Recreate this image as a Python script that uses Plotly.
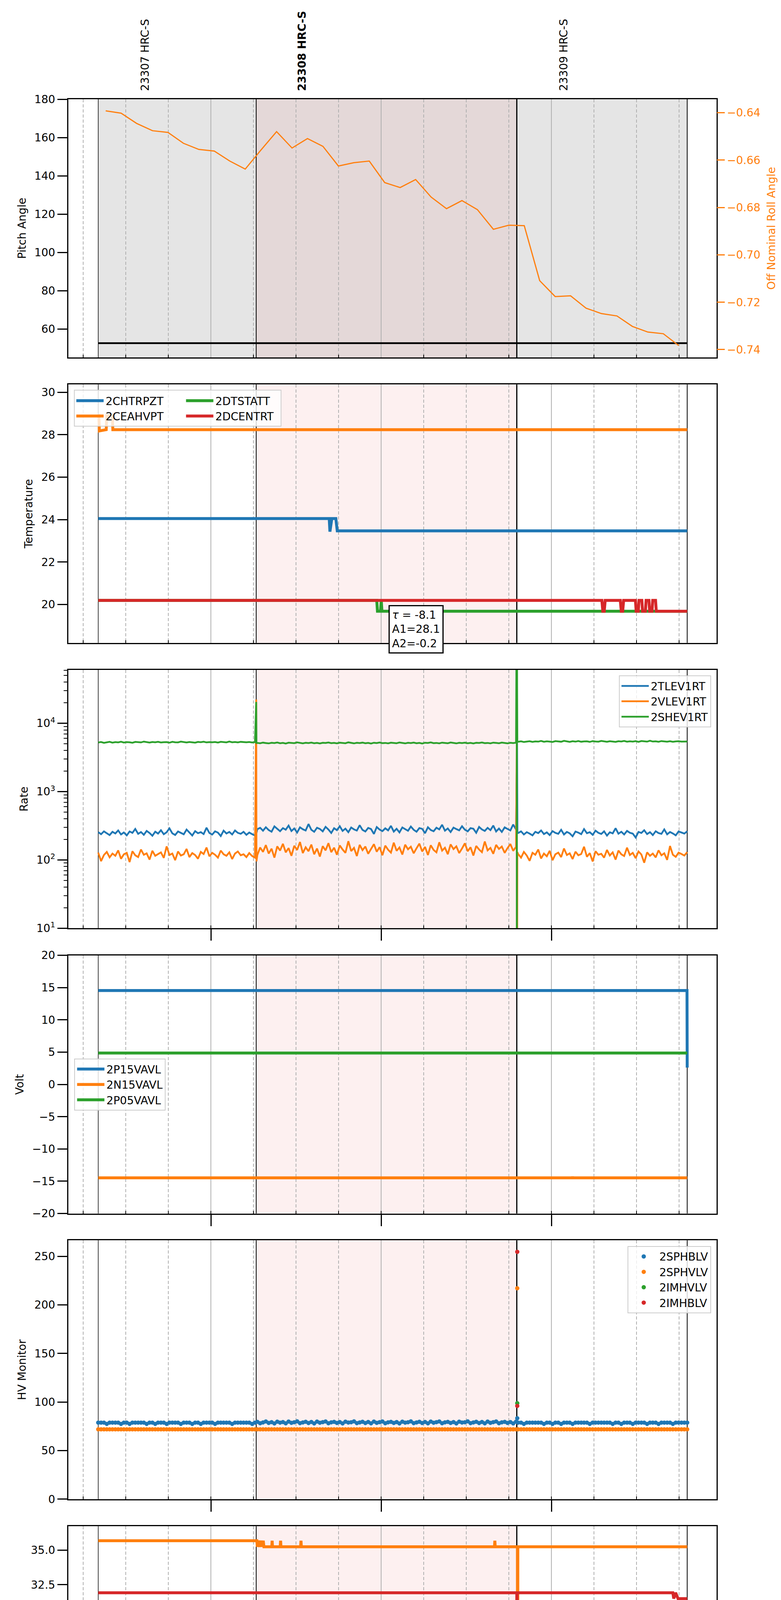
import pandas as pd
import plotly.graph_objects as go

DAY = "2020-07-07 "
C0, C1, C2, C3 = "#1f77b4", "#ff7f0e", "#2ca02c", "#d62728"

# time window and observation boundaries
x_range = ["14:09:44", "17:58:10"]
obs_edges = ["14:20:16", "15:15:56", "16:47:46", "17:47:49"]
obs_names = ["23307 HRC-S", "23308 HRC-S", "23309 HRC-S"]
obs_label_times = ["14:36:46", "15:32:05", "17:04:16"]
current_obs = 1

minor_tick_times = ["14:15", "14:30", "14:45", "15:15", "15:30", "15:45",
                    "16:15", "16:30", "16:45", "17:15", "17:30", "17:45"]
minor_tick_text = ["15", "30", "45", "15", "30", "45", "15", "30", "45", "15", "30", "45"]

# panel 1: pitch and roll
pitch_t = ["14:20:16", "17:47:49"]
pitch_v = [52.6, 52.6]
roll_t = ["14:22:54", "14:28:20", "14:33:47", "14:39:24", "14:44:51", "14:50:17", "14:55:44",
          "15:01:10", "15:06:37", "15:12:04", "15:17:30", "15:23:07", "15:28:34", "15:34:00",
          "15:39:27", "15:44:54", "15:50:20", "15:55:47", "16:01:13", "16:06:40", "16:12:07",
          "16:17:34", "16:23:00", "16:28:26", "16:33:53", "16:39:31", "16:44:57", "16:50:24",
          "16:55:50", "17:01:17", "17:06:44", "17:12:10", "17:17:37", "17:23:04", "17:28:30",
          "17:33:57", "17:39:24", "17:44:50"]
roll_v = [-0.6392, -0.6402, -0.6445, -0.6476, -0.6483, -0.6529, -0.6555, -0.6562, -0.6604,
          -0.6638, -0.6559, -0.6480, -0.6549, -0.6509, -0.6542, -0.6625, -0.6611, -0.6604,
          -0.6695, -0.6716, -0.6682, -0.6756, -0.6805, -0.6771, -0.6809, -0.6892, -0.6875,
          -0.6877, -0.7109, -0.7176, -0.7173, -0.7225, -0.7248, -0.7258, -0.7302, -0.7326,
          -0.7333, -0.7383]

# panel 2: temperature
chtrpzt_t = ["14:20:16", "15:41:40", "15:41:55", "15:42:35", "15:44:00", "15:44:30", "17:47:49"]
chtrpzt_v = [24.05, 24.05, 23.43, 24.05, 24.05, 23.47, 23.47]
ceahvpt_t = ["14:20:16", "14:20:30", "14:20:40", "14:23:05", "14:23:15", "14:25:15", "14:25:25", "17:47:49"]
ceahvpt_v = [28.9, 28.9, 28.18, 28.24, 28.9, 28.9, 28.24, 28.24]
dtstatt_t = ["14:20:16", "15:58:25", "15:58:40", "15:59:45", "16:00:00", "16:00:15", "17:47:49"]
dtstatt_v = [20.19, 20.19, 19.68, 19.68, 20.19, 19.68, 19.68]
dcentrt_t = ["14:20:16", "17:17:45", "17:18:05", "17:18:35", "17:18:55", "17:24:15", "17:24:35",
             "17:25:05", "17:25:25", "17:29:35", "17:29:50", "17:30:35", "17:30:50", "17:31:50",
             "17:32:05", "17:33:05", "17:33:20", "17:34:20", "17:34:35", "17:35:25", "17:35:40",
             "17:36:40", "17:36:55", "17:47:49"]
dcentrt_v = [20.19, 20.19, 19.68, 19.68, 20.19, 20.19, 19.68, 19.68, 20.19, 20.19, 19.68, 19.68,
             20.19, 20.19, 19.68, 19.68, 20.19, 20.19, 19.68, 19.68, 20.19, 20.19, 19.68, 19.68]
fit_text = "<i>τ</i> = -8.1<br>A1=28.1<br>A2=-0.2"

# panel 3: rates, one sample a minute in each observation window
rate_windows = [("14:20:16", "15:15:30"), ("15:16:20", "16:47:30"), ("16:48:15", "17:47:49")]
tlev_pre = [255, 238, 262, 247, 231, 258, 244, 270, 236, 252, 229, 261, 249, 284, 241, 256, 233, 266,
            248, 226, 259, 243, 272, 238, 254, 290, 245, 232, 261, 249, 237, 278, 252, 228, 264, 246,
            255, 239, 296, 248, 235, 262, 251, 224, 268, 244, 257, 236, 270, 249, 241, 258, 233, 252,
            238, 228]
tlev_mid = [282, 295, 268, 301, 274, 259, 310, 286, 263, 292, 277, 318, 265, 289, 252, 300, 281, 270,
            335, 276, 258, 296, 284, 262, 305, 279, 248, 291, 273, 312, 266, 287, 255, 298, 280, 269,
            322, 275, 261, 294, 283, 240, 303, 278, 264, 290, 271, 315, 260, 286, 253, 299, 282, 267,
            308, 276, 259, 293, 285, 246, 301, 274, 263, 296, 280, 327, 268, 289, 256, 297, 283, 271,
            311, 277, 262, 292, 286, 250, 304, 279, 266, 295, 273, 318, 261, 288, 257, 300, 284, 270,
            330, 278]
tlev_post = [248, 262, 236, 255, 243, 229, 258, 247, 270, 239, 253, 231, 264, 249, 241, 276, 236, 257,
             245, 222, 260, 251, 238, 283, 246, 255, 233, 268, 249, 240, 262, 227, 254, 245, 291, 242,
             258, 236, 266, 250, 243, 213, 257, 248, 272, 239, 255, 231, 263, 247, 241, 280, 237, 256,
             244, 229, 261, 250, 243, 262]
vlev_pre = [128, 96, 118, 131, 109, 124, 115, 138, 104, 121, 127, 93, 134, 117, 110, 142, 119, 125,
            101, 136, 115, 122, 129, 107, 158, 118, 124, 99, 133, 116, 121, 145, 110, 126, 118, 104,
            131, 122, 152, 113, 127, 119, 108, 137, 121, 115, 129, 103, 124, 133, 117, 121, 110, 126,
            114, 108]
vlev_mid = [118, 152, 131, 165, 124, 146, 108, 158, 137, 172, 129, 149, 115, 161, 140, 183, 126, 153,
            134, 168, 121, 147, 112, 159, 138, 176, 130, 151, 119, 163, 142, 127, 188, 135, 150, 114,
            166, 139, 157, 123, 145, 170, 132, 154, 117, 162, 141, 128, 179, 136, 152, 120, 167, 143,
            156, 125, 148, 173, 133, 155, 118, 164, 140, 129, 181, 137, 151, 121, 169, 144, 158, 126,
            147, 175, 134, 153, 116, 160, 142, 130, 186, 138, 150, 123, 166, 145, 157, 127, 149, 171,
            136, 155]
vlev_post = [122, 108, 131, 116, 97, 127, 119, 142, 105, 124, 113, 136, 99, 121, 128, 110, 147, 118,
             125, 103, 132, 117, 122, 156, 111, 126, 95, 134, 119, 123, 108, 140, 116, 129, 101, 137,
             121, 114, 151, 118, 127, 106, 133, 120, 91, 129, 115, 124, 109, 138, 117, 125, 100, 160,
             119, 111, 128, 122, 116, 130]
shev_pre = [5240, 5320, 5180, 5290, 5350, 5210, 5300, 5260, 5380, 5230, 5310, 5270, 5190, 5340, 5280,
            5250, 5400, 5300, 5220, 5330, 5270, 5360, 5240, 5290, 5310, 5200, 5350, 5280, 5260, 5390,
            5300, 5240, 5320, 5270, 5210, 5340, 5290, 5380, 5250, 5310, 5270, 5330, 5230, 5360, 5300,
            5260, 5410, 5280, 5320, 5250, 5350, 5290, 5270, 5330, 5240, 5300]
shev_mid = [5160, 5100, 5210, 5140, 5080, 5190, 5130, 5230, 5110, 5170, 5060, 5200, 5150, 5120, 5250,
            5140, 5090, 5180, 5130, 5220, 5100, 5160, 5070, 5190, 5150, 5240, 5120, 5170, 5090, 5200,
            5140, 5110, 5260, 5150, 5080, 5180, 5130, 5210, 5100, 5170, 5050, 5190, 5140, 5230, 5120,
            5160, 5090, 5200, 5150, 5110, 5240, 5130, 5080, 5180, 5140, 5220, 5100, 5170, 5060, 5190,
            5150, 5250, 5120, 5160, 5090, 5210, 5140, 5110, 5230, 5150, 5080, 5180, 5130, 5200, 5100,
            5170, 5070, 5190, 5150, 5240, 5120, 5160, 5090, 5210, 5140, 5110, 5220, 5150, 5080, 5180,
            5140, 5200]
shev_post = [5380, 5450, 5320, 5410, 5470, 5350, 5430, 5390, 5510, 5360, 5440, 5400, 5330, 5480, 5420,
             5370, 5530, 5410, 5350, 5460, 5390, 5500, 5370, 5430, 5450, 5340, 5490, 5410, 5380, 5520,
             5420, 5360, 5460, 5400, 5340, 5470, 5410, 5510, 5380, 5440, 5400, 5480, 5350, 5500, 5420,
             5390, 5550, 5410, 5450, 5370, 5490, 5420, 5380, 5460, 5360, 5430, 5470, 5400, 5440, 5420]
# spikes at the two observation changes (values below 10 or above 6e4 run off the axis)
tlev_spike1_t, tlev_spike1_v = ["15:15:56", "15:16:02"], [262, 248]
vlev_spike1_t, vlev_spike1_v = ["15:15:56", "15:16:02"], [22300, 95]
shev_spike1_t, shev_spike1_v = ["15:15:56", "15:16:02"], [20500, 5150]
tlev_spike2_t, tlev_spike2_v = ["16:47:52", "16:48:00"], [5200, 250]
vlev_spike2_t, vlev_spike2_v = ["16:47:45", "16:47:47", "16:47:52", "16:47:58"], [5000, 0.1, 0.1, 130]
shev_spike2_t = ["16:47:45", "16:47:47", "16:47:49", "16:47:51", "16:47:53", "16:47:58"]
shev_spike2_v = [1e6, 0.1, 1e6, 0.1, 35000, 5350]

# panel 4: voltages
p15vavl_t, p15vavl_v = ["14:20:16", "17:47:45", "17:47:49"], [14.54, 14.54, 2.6]
n15vavl_t = ["14:20:16", "17:07:18", "17:07:26", "17:07:34", "17:47:49"]
n15vavl_v = [-14.48, -14.48, -14.3, -14.48, -14.48]
p05vavl_t, p05vavl_v = ["14:20:16", "17:47:49"], [4.86, 4.86]

# panel 5: HV monitor, one sample a minute in each observation window
sphblv_pre = [78.8, 78.8, 78.8, 77.5, 78.8, 78.8, 78.8, 78.8, 77.5, 78.8, 78.8, 77.5, 78.8, 78.8,
              78.8, 78.8, 78.8, 77.5, 78.8, 78.8, 77.5, 78.8, 78.8, 78.8, 77.5, 78.8, 78.8, 78.8,
              78.8, 77.5, 78.8, 78.8, 78.8, 77.5, 78.8, 78.8, 77.5, 78.8, 78.8, 78.8, 78.8, 77.5,
              78.8, 78.8, 78.8, 78.8, 78.8, 77.5, 78.8, 78.8, 78.8, 78.8, 78.8, 78.8, 77.5, 78.8]
sphblv_mid = [79.6, 78.2, 79.0, 80.0, 78.5, 79.3, 78.0, 79.8, 78.8, 79.4, 78.1, 79.9, 78.6, 79.2,
              80.1, 78.3, 79.0, 79.7, 78.4, 79.5, 78.0, 79.9, 78.7, 79.3, 80.0, 78.2, 79.1, 79.6,
              78.5, 79.4, 78.0, 79.8, 78.9, 79.2, 80.1, 78.3, 79.0, 79.7, 78.4, 79.5, 78.1, 79.9,
              78.6, 79.3, 80.0, 78.2, 79.1, 79.6, 78.5, 79.4, 78.0, 79.8, 78.8, 79.2, 80.1, 78.3,
              79.0, 79.7, 78.4, 79.5, 78.1, 79.9, 78.7, 79.3, 80.0, 78.2, 79.1, 79.6, 78.5, 79.4,
              78.0, 79.8, 78.9, 79.2, 80.1, 78.3, 79.0, 79.7, 78.4, 79.5, 78.1, 79.9, 78.6, 79.3,
              80.0, 78.2, 79.1, 79.6, 78.5, 79.4, 78.0, 79.8]
sphblv_post = [78.8, 78.8, 77.5, 78.8, 78.8, 78.8, 78.8, 78.8, 78.8, 77.5, 78.8, 78.8, 77.5, 78.8,
               78.8, 77.5, 78.8, 78.8, 78.8, 77.5, 78.8, 78.8, 78.8, 78.8, 78.8, 77.5, 78.8, 78.8,
               78.8, 78.8, 78.8, 78.8, 78.8, 77.5, 78.8, 78.8, 77.5, 78.8, 78.8, 78.8, 77.5, 78.8,
               78.8, 78.8, 78.8, 77.5, 78.8, 78.8, 78.8, 77.5, 78.8, 78.8, 78.8, 78.8, 77.5, 78.8,
               78.8, 78.8, 78.8, 78.8]
sphvlv_level = 71.9
hv_spike_t = "16:47:56"
sphblv_spike, sphvlv_spike = [83.3], [217.1]
imhvlv_spike, imhblv_spike = [98.8], [254.6, 96.0]

# panel 6: detector temperatures
spinatm_t, spinatm_v = ["14:20:16", "17:47:49"], [21.0, 21.0]
sphvatm_t = ["14:20:16", "15:16:10", "15:16:20", "15:16:50", "15:17:20", "15:17:45", "15:18:10",
             "15:18:25", "15:18:40", "15:21:25", "15:21:33", "15:21:41", "15:24:24", "15:24:32",
             "15:24:40", "15:31:35", "15:31:43", "15:31:51", "16:39:54", "16:40:02", "16:40:10",
             "16:48:00", "16:48:04", "16:48:08", "17:47:49"]
sphvatm_v = [35.67, 35.67, 35.23, 35.67, 35.23, 35.67, 35.23, 35.67, 35.23, 35.23, 35.67, 35.23,
             35.23, 35.67, 35.23, 35.23, 35.67, 35.23, 35.23, 35.67, 35.23, 35.23, 0.0, 35.23, 35.23]
iminatm_t = ["14:20:16", "16:48:08", "16:48:12", "16:48:16", "17:47:49"]
iminatm_v = [19.62, 19.62, 0.0, 19.62, 19.62]
imhvatm_t = ["14:20:16", "16:47:46", "16:47:50", "16:47:54", "17:42:45", "17:43:05", "17:43:45",
             "17:44:35", "17:47:49"]
imhvatm_v = [31.92, 31.92, 0.0, 31.92, 31.92, 31.5, 31.92, 31.5, 31.5]

# panel 7: FEA temperatures
fhtrmzt_t = ["14:20:16", "14:22:15", "14:22:30", "14:29:20", "14:29:34", "14:29:48", "14:45:40",
             "14:45:54", "14:46:08", "16:21:00", "16:21:14", "16:21:28", "16:29:28", "16:29:41",
             "16:29:54", "17:01:10", "17:01:25", "17:02:50", "17:03:05", "17:03:40", "17:47:49"]
fhtrmzt_v = [21.83, 21.83, 21.26, 21.26, 21.83, 21.26, 21.26, 19.13, 21.26, 21.26, 20.70, 21.26,
             21.26, 22.97, 21.26, 21.26, 20.74, 20.74, 21.26, 20.74, 20.74]
fradpyt_t, fradpyt_v = ["14:20:16", "15:44:15", "15:44:35", "17:47:49"], [16.67, 16.67, 16.20, 16.20]
fepratm_t = ["14:20:16", "16:47:40", "16:47:42", "16:47:44", "16:47:46", "17:22:50", "17:23:10",
             "17:24:00", "17:25:00", "17:26:10", "17:27:05", "17:28:15", "17:29:25", "17:47:49"]
fepratm_v = [23.88, 23.88, 40.0, 0.0, 23.88, 23.88, 23.15, 23.88, 23.15, 23.88, 23.15, 23.88,
             23.15, 23.15]
fe00atm_t = ["14:20:16", "15:23:20", "15:23:28", "15:23:36", "15:24:30", "15:24:42", "15:24:54",
             "15:46:00", "15:46:07", "15:46:14", "15:51:00", "15:51:15", "15:51:45", "15:52:00",
             "15:52:30", "15:52:45", "15:53:15", "15:53:30", "15:54:00", "15:54:34", "15:55:08",
             "15:55:16", "15:55:24", "15:57:14", "15:57:22", "15:57:30", "16:13:02", "16:13:10",
             "16:13:18", "16:25:40", "16:25:48", "16:25:56", "16:47:52", "16:47:54", "16:47:56",
             "16:47:58", "16:48:22", "16:48:28", "16:48:34", "17:47:49"]
fe00atm_v = [21.40, 21.40, 21.05, 21.40, 21.40, 20.46, 21.40, 21.40, 21.05, 21.40, 21.40, 21.10,
             21.10, 21.40, 21.40, 21.10, 21.10, 21.40, 21.40, 21.10, 21.10, 20.74, 21.10, 21.10,
             21.75, 21.10, 21.10, 21.40, 21.10, 21.10, 20.74, 21.10, 21.10, 40.0, 0.0, 21.10,
             21.10, 20.75, 21.10, 21.10]


def tt(hms):
    return [pd.Timestamp(DAY + s) for s in hms]


def seg(win, n):
    return list(pd.date_range(DAY + win[0], DAY + win[1], periods=n).round("s"))


# page geometry (pixels) of the seven panels
W, H = 2000, 5400
ML, MR, MT, MB = 167, 173, 246, 109
panel_px = [(246.0, 907.0), (976.3, 1637.8), (1706.7, 2368.3), (2437.5, 3098.6),
            (3167.3, 3829.9), (3899.2, 4560.2), (4628.6, 5291.0)]
PH = H - MT - MB
PW = W - ML - MR


def py(p):
    return (H - MB - p) / PH


def px(p):
    return (p - ML) / PW


FONT = "DejaVu Sans"
fig = go.Figure()


def line(t, v, color, width, name, row, legend=None, yaxis=None):
    fig.add_trace(go.Scatter(
        x=t, y=v, mode="lines", name=name, line=dict(color=color, width=width),
        xaxis="x" if row == 1 else f"x{row}", yaxis=yaxis or ("y" if row == 1 else f"y{row}"),
        legend=legend or "legend", showlegend=legend is not None, legendgroup=name))


# panel 1
line(tt(pitch_t), pitch_v, "black", 4.5, "pitch", 1)
line(tt(roll_t), roll_v, C1, 3, "roll", 1, yaxis="y8")

# panel 2
line(tt(chtrpzt_t), chtrpzt_v, C0, 7.5, "2CHTRPZT", 2, "legend")
line(tt(ceahvpt_t), ceahvpt_v, C1, 7.5, "2CEAHVPT", 2, "legend")
line(tt(dtstatt_t), dtstatt_v, C2, 7.5, "2DTSTATT", 2, "legend2")
line(tt(dcentrt_t), dcentrt_v, C3, 7.5, "2DCENTRT", 2, "legend2")

# panel 3
for name, color, pre, mid, post, s1t, s1v, s2t, s2v in [
        ("2TLEV1RT", C0, tlev_pre, tlev_mid, tlev_post, tlev_spike1_t, tlev_spike1_v, tlev_spike2_t, tlev_spike2_v),
        ("2VLEV1RT", C1, vlev_pre, vlev_mid, vlev_post, vlev_spike1_t, vlev_spike1_v, vlev_spike2_t, vlev_spike2_v),
        ("2SHEV1RT", C2, shev_pre, shev_mid, shev_post, shev_spike1_t, shev_spike1_v, shev_spike2_t, shev_spike2_v)]:
    x = seg(rate_windows[0], len(pre)) + tt(s1t) + seg(rate_windows[1], len(mid)) + tt(s2t) + \
        seg(rate_windows[2], len(post))
    y = pre + s1v + mid + s2v + post
    line(x, y, color, 4.5, name, 3, "legend3")

# panel 4
line(tt(p15vavl_t), p15vavl_v, C0, 7.5, "2P15VAVL", 4, "legend4")
line(tt(n15vavl_t), n15vavl_v, C1, 7.5, "2N15VAVL", 4, "legend4")
line(tt(p05vavl_t), p05vavl_v, C2, 7.5, "2P05VAVL", 4, "legend4")

# panel 5
hv_x = seg(rate_windows[0], len(sphblv_pre)) + seg(rate_windows[1], len(sphblv_mid)) + \
    seg(rate_windows[2], len(sphblv_post))
sphblv_x = hv_x + tt([hv_spike_t])
sphblv_y = sphblv_pre + sphblv_mid + sphblv_post + sphblv_spike
sphvlv_x = hv_x + tt([hv_spike_t])
sphvlv_y = [sphvlv_level] * len(hv_x) + sphvlv_spike
for name, color, x, y in [("2SPHBLV", C0, sphblv_x, sphblv_y), ("2SPHVLV", C1, sphvlv_x, sphvlv_y),
                          ("2IMHVLV", C2, tt([hv_spike_t]), imhvlv_spike),
                          ("2IMHBLV", C3, tt([hv_spike_t] * 2), imhblv_spike)]:
    fig.add_trace(go.Scatter(x=x, y=y, mode="markers", name=name, marker=dict(color=color, size=11),
                             xaxis="x5", yaxis="y5", legend="legend5", legendgroup=name))

# panel 6
line(tt(spinatm_t), spinatm_v, C0, 7.5, "2SPINATM", 6, "legend6")
line(tt(sphvatm_t), sphvatm_v, C1, 7.5, "2SPHVATM", 6, "legend6")
line(tt(iminatm_t), iminatm_v, C2, 7.5, "2IMINATM", 6, "legend6")
line(tt(imhvatm_t), imhvatm_v, C3, 7.5, "2IMHVATM", 6, "legend6")

# panel 7
line(tt(fhtrmzt_t), fhtrmzt_v, C0, 7.5, "2FHTRMZT", 7, "legend7")
line(tt(fradpyt_t), fradpyt_v, C1, 7.5, "2FRADPYT", 7, "legend7")
line(tt(fepratm_t), fepratm_v, C2, 7.5, "2FEPRATM", 7, "legend7")
line(tt(fe00atm_t), fe00atm_v, C3, 7.5, "2FE00ATM", 7, "legend7")

# shading and observation boundaries
edges = tt(obs_edges)
shapes = []
for i in range(1, 8):
    xr = "x" if i == 1 else f"x{i}"
    yr = "y domain" if i == 1 else f"y{i} domain"
    if i == 1:
        shapes.append(dict(type="rect", xref=xr, yref=yr, x0=edges[0], x1=edges[3], y0=0, y1=1,
                           fillcolor="#e5e5e5", line_width=0, layer="below"))
    shapes.append(dict(type="rect", xref=xr, yref=yr, x0=edges[1], x1=edges[2], y0=0, y1=1,
                       fillcolor="#e4d8d8" if i == 1 else "#fdf0f0", line_width=0, layer="below"))
    for e, w in zip(edges, [1.5, 2, 3, 2]):
        shapes.append(dict(type="line", xref=xr, yref=yr, x0=e, x1=e, y0=0, y1=1,
                           line=dict(color="black", width=w), layer="below"))
# frame around the two-column legend of panel 2
shapes.append(dict(type="rect", xref="paper", yref="paper", x0=px(182.4), x1=px(711.7),
                   y0=py(1083), y1=py(990.7), fillcolor="rgba(255,255,255,0.8)",
                   line=dict(color="#cccccc", width=2), layer="above"))

annotations = []
for i, (nm, lt) in enumerate(zip(obs_names, obs_label_times)):
    annotations.append(dict(x=pd.Timestamp(DAY + lt), y=1, xref="x", yref="paper",
                            text=f"<b>{nm}</b>" if i == current_obs else nm, textangle=-90,
                            showarrow=False, xanchor="center", yanchor="bottom", yshift=19,
                            font=dict(size=28, color="black", family=FONT)))
annotations.append(dict(x=px(987), y=py(1541), xref="paper", yref="paper", text=fit_text,
                        showarrow=False, xanchor="left", yanchor="top", align="left",
                        bgcolor="white", bordercolor="black", borderwidth=3, borderpad=6,
                        font=dict(size=28, color="black", family=FONT)))
# minute labels under the bottom panel
for mt, mtxt in zip(minor_tick_times, minor_tick_text):
    annotations.append(dict(x=pd.Timestamp(DAY + mt), y=0, xref="x7", yref="y7 domain",
                            text=mtxt, showarrow=False, xanchor="center", yanchor="top",
                            yshift=-4, font=dict(size=19, color="black", family=FONT)))

xr = tt(x_range)
layout = dict(width=W, height=H, margin=dict(l=ML, r=MR, t=MT, b=MB, autoexpand=False),
              paper_bgcolor="white", plot_bgcolor="white",
              font=dict(family=FONT, size=28, color="black"),
              shapes=shapes, annotations=annotations)

for i in range(1, 8):
    ax = dict(type="date", range=xr, anchor="y" if i == 1 else f"y{i}", domain=[0, 1],
              dtick=3600000, tick0=DAY + "00:00:00", showgrid=True, gridcolor="#b0b0b0", gridwidth=2,
              minor=dict(dtick=900000, tick0=DAY + "00:00:00", showgrid=True, gridcolor="#b0b0b0",
                         gridwidth=2, griddash="8px,5px", ticks="inside", ticklen=7, tickwidth=2,
                         tickcolor="black"),
              showline=True, linecolor="black", linewidth=3, mirror=True, zeroline=False,
              ticks="outside" if i > 2 else "", ticklen=29, tickwidth=3, tickcolor="black",
              showticklabels=(i == 7))
    if i == 7:
        ax.update(tickformat="%Hh", tickfont=dict(size=28),
                  title=dict(text="2020-07-07 (189)", standoff=14, font=dict(size=28)))
    layout["xaxis" if i == 1 else f"xaxis{i}"] = ax

y_specs = [
    dict(title="Pitch Angle", range=[45.17, 180], dtick=20),
    dict(title="Temperature", range=[18.185, 30.37], dtick=2),
    dict(title="Rate", type="log", range=[1, 4.783], tickmode="array",
         tickvals=[10, 100, 1000, 10000],
         ticktext=["10<sup>1</sup>", "10<sup>2</sup>", "10<sup>3</sup>", "10<sup>4</sup>"]),
    dict(title="Volt", range=[-20, 20], dtick=5),
    dict(title="HV Monitor", range=[0, 266.4], dtick=50),
    dict(title="Detector Temp", range=[18.12, 36.71], dtick=2.5, tickformat=".1f"),
    dict(title="FEA Temp", range=[14.69, 25.38], dtick=2),
]
for i, spec in enumerate(y_specs, start=1):
    top, bot = panel_px[i - 1]
    ay = dict(domain=[py(bot), py(top)], anchor="x" if i == 1 else f"x{i}",
              showline=True, linecolor="black", linewidth=3, mirror=True, zeroline=False,
              showgrid=False, ticks="outside", ticklen=25, tickwidth=3, tickcolor="black",
              tickfont=dict(size=28),
              title=dict(text=spec.pop("title"), standoff=14, font=dict(size=28)))
    ay.update(spec)
    if i == 3:
        ay["minor"] = dict(ticks="outside", ticklen=9, tickwidth=2, tickcolor="black",
                           tickmode="array",
                           tickvals=[m * 10 ** d for d in range(1, 5) for m in range(2, 10)])
    layout["yaxis" if i == 1 else f"yaxis{i}"] = ay

layout["yaxis8"] = dict(overlaying="y", side="right", anchor="x", range=[-0.7433, -0.6343],
                        dtick=0.02, tickformat=".2f", showline=False, showgrid=False, zeroline=False,
                        ticks="outside", ticklen=20, tickwidth=3, tickcolor=C1,
                        tickfont=dict(size=28, color=C1),
                        title=dict(text="Off Nominal Roll Angle", standoff=18,
                                   font=dict(size=28, color=C1)))

leg_box = dict(bgcolor="rgba(255,255,255,0.8)", bordercolor="#cccccc", borderwidth=2,
               font=dict(size=28), tracegroupgap=0, itemwidth=70, xref="paper", yref="paper")
leg_open = dict(bgcolor="rgba(0,0,0,0)", borderwidth=0, font=dict(size=28), tracegroupgap=0,
                itemwidth=70, xref="paper", yref="paper")
layout["legend"] = dict(leg_open, x=px(182.4), y=py(993), xanchor="left", yanchor="top")
layout["legend2"] = dict(leg_open, x=px(463.4), y=py(993), xanchor="left", yanchor="top")
layout["legend3"] = dict(leg_box, x=px(1812.5), y=py(1721.2), xanchor="right", yanchor="top")
layout["legend4"] = dict(leg_box, x=px(182.4), y=py(2702.1), xanchor="left", yanchor="top")
layout["legend5"] = dict(leg_box, x=px(1812.5), y=py(3181.8), xanchor="right", yanchor="top")
layout["legend6"] = dict(leg_box, x=px(1812.5), y=py(4141.4), xanchor="right", yanchor="top")
layout["legend7"] = dict(leg_box, x=px(1812.5), y=py(4642.4), xanchor="right", yanchor="top")

fig.update_layout(**layout)
fig.write_html("out.html")
